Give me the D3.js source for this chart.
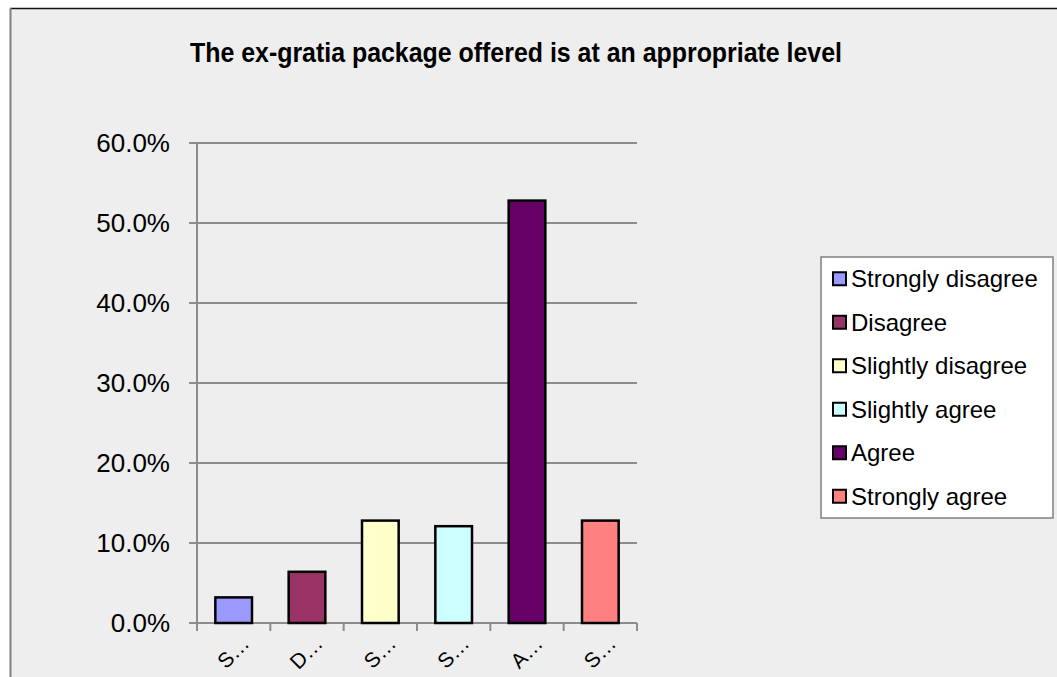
<!DOCTYPE html>
<html>
<head>
<meta charset="utf-8">
<script src="https://cdn.jsdelivr.net/npm/d3@7"></script>
<style>
  html, body { margin: 0; padding: 0; background: #ffffff; }
  svg { display: block; font-family: "Liberation Sans", Arial, sans-serif; }
</style>
</head>
<body>
<svg id="chart" width="1057" height="677"></svg>
<script>
const title = "The ex-gratia package offered is at an appropriate level";
const categories = ["Strongly disagree", "Disagree", "Slightly disagree", "Slightly agree", "Agree", "Strongly agree"];
const values = [0.032, 0.064, 0.128, 0.121, 0.528, 0.128];
const colors = ["#9999FF", "#993366", "#FFFFCC", "#CCFFFF", "#660066", "#FF8080"];
const yTicks = [0, 0.1, 0.2, 0.3, 0.4, 0.5, 0.6];

const svg = d3.select("#chart");

// chart area background and frame
svg.append("rect").attr("x", 10).attr("y", 8).attr("width", 1100).attr("height", 700).attr("fill", "#eeeeee");
svg.append("line").attr("x1", 10).attr("x2", 1057).attr("y1", 8.5).attr("y2", 8.5).attr("stroke", "#111").attr("stroke-width", 1.5);
svg.append("line").attr("x1", 10.5).attr("x2", 10.5).attr("y1", 8).attr("y2", 677).attr("stroke", "#808080").attr("stroke-width", 2);

// title
svg.append("text")
  .attr("x", 516).attr("y", 62)
  .attr("text-anchor", "middle")
  .attr("font-size", 27).attr("font-weight", "bold")
  .attr("textLength", 652).attr("lengthAdjust", "spacingAndGlyphs")
  .attr("fill", "#000")
  .text(title);

const x = d3.scaleBand().domain(categories).range([197, 637]).paddingInner(0.5).paddingOuter(0.25);
const xb = d3.scaleBand().domain(categories).range([197, 637]);
const y = d3.scaleLinear().domain([0, 0.6]).range([623, 143]);

// gridlines
svg.append("g").selectAll("line").data(yTicks).join("line")
  .attr("x1", 189).attr("x2", 637)
  .attr("y1", d => y(d)).attr("y2", d => y(d))
  .attr("stroke", "#8c8c8c").attr("stroke-width", 2);

// y axis line
svg.append("line").attr("x1", 197).attr("x2", 197).attr("y1", y(0.6)).attr("y2", 631)
  .attr("stroke", "#8c8c8c").attr("stroke-width", 2);

// x axis ticks at category boundaries
const bounds = categories.map(c => xb(c)).concat([xb.range()[1]]);
svg.append("g").selectAll("line").data(bounds).join("line")
  .attr("x1", d => d).attr("x2", d => d)
  .attr("y1", y(0)).attr("y2", 631)
  .attr("stroke", "#8c8c8c").attr("stroke-width", 2);

// y labels
svg.append("g").selectAll("text").data(yTicks).join("text")
  .attr("x", 170).attr("y", d => y(d))
  .attr("dy", "0.36em")
  .attr("text-anchor", "end")
  .attr("font-size", 26)
  .attr("fill", "#000")
  .text(d => d3.format(".1%")(d));

// bars
svg.append("g").selectAll("rect").data(values).join("rect")
  .attr("x", (d, i) => x(categories[i]))
  .attr("y", d => y(d))
  .attr("width", x.bandwidth())
  .attr("height", d => y(0) - y(d))
  .attr("fill", (d, i) => colors[i])
  .attr("stroke", "#000").attr("stroke-width", 2.5);

// x labels (truncated, rotated)
svg.append("g").selectAll("text").data(categories).join("text")
  .attr("transform", c => `translate(${xb(c) + xb.bandwidth() / 2 + 17},${645}) rotate(-45)`)
  .attr("text-anchor", "end")
  .attr("font-size", 21)
  .attr("fill", "#000")
  .text(c => c[0] + "…");

// legend
const legX = 821, legY = 257, legW = 232, legH = 261;
svg.append("rect").attr("x", legX).attr("y", legY).attr("width", legW).attr("height", legH)
  .attr("fill", "#ffffff").attr("stroke", "#808080").attr("stroke-width", 1.5);
const ly = d3.scaleBand().domain(categories).range([legY, legY + legH]);
const items = svg.append("g").selectAll("g").data(categories).join("g")
  .attr("transform", c => `translate(0,${ly(c) + ly.bandwidth() / 2})`);
items.append("rect")
  .attr("x", 833).attr("y", -6.5).attr("width", 13).attr("height", 13)
  .attr("fill", (c, i) => colors[i]).attr("stroke", "#000").attr("stroke-width", 2);
items.append("text")
  .attr("x", 851).attr("dy", "0.36em")
  .attr("font-size", 24).attr("fill", "#000")
  .text(c => c);
</script>
</body>
</html>
